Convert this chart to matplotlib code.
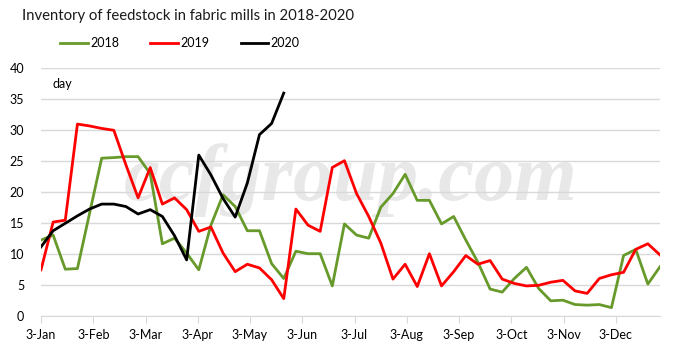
import numpy as np
import matplotlib
matplotlib.use("Agg")
import matplotlib.pyplot as plt

# weekly inventory (days)
green_2018 = [12.3, 13.1, 7.6, 7.7, 16.6, 25.5, 25.6, 25.75, 25.75, 23.0,
              11.7, 12.6, 10.2, 7.5, 14.7, 19.6, 17.7, 13.8, 13.8, 8.5,
              6.1, 10.5, 10.1, 10.1, 4.9, 14.9, 13.1, 12.6, 17.6, 19.8,
              22.9, 18.7, 18.7, 14.9, 16.1, 12.3, 8.7, 4.4, 3.9, 6.1,
              7.9, 4.5, 2.5, 2.6, 1.9, 1.8, 1.9, 1.4, 9.8, 10.8, 5.2, 8.0]
red_2019 = [7.5, 15.2, 15.5, 31.0, 30.7, 30.3, 30.0, 24.4, 19.1, 24.0,
            18.1, 19.1, 17.2, 13.7, 14.4, 10.2, 7.2, 8.4, 7.8, 5.9,
            2.85, 17.3, 14.7, 13.7, 24.0, 25.1, 19.8, 16.1, 11.8, 6.0,
            8.4, 4.8, 10.1, 4.9, 7.2, 9.8, 8.4, 9.0, 6.0, 5.3,
            4.9, 5.0, 5.5, 5.8, 4.1, 3.7, 6.1, 6.7, 7.1, 10.8, 11.7, 9.9]
black_2020 = [11.2, 13.8, 15.0, 16.2, 17.3, 18.1, 18.1, 17.7, 16.5, 17.2,
              16.1, 13.0, 9.1, 26.0, 22.8, 19.0, 16.0, 21.5, 29.3, 31.1, 36.0]

month_labels = ["3-Jan", "3-Feb", "3-Mar", "3-Apr", "3-May", "3-Jun",
                "3-Jul", "3-Aug", "3-Sep", "3-Oct", "3-Nov", "3-Dec"]
weeks_per_month = 4.305

plt.rcParams['font.family'] = ['Lato', 'DejaVu Sans']

fig = plt.figure(figsize=(6.88, 3.64), dpi=100)
ax = fig.add_axes([0.0596, 0.131, 0.8997, 0.6814])

# watermark
ax.text(0.5, 0.55, "ccfgroup.com", transform=ax.transAxes, ha="center", va="center",
        fontsize=58, family="Liberation Serif", style="italic", fontweight="bold",
        color="#e8e8e8", zorder=0)

ax.plot(np.arange(len(green_2018)), green_2018, color="#679a2b", lw=2.0, label="2018", zorder=3)
ax.plot(np.arange(len(red_2019)), red_2019, color="#ff0000", lw=2.0, label="2019", zorder=3)
ax.plot(np.arange(len(black_2020)), black_2020, color="black", lw=2.0, label="2020", zorder=4)

ax.set_xlim(0, len(green_2018) - 1)
ax.set_ylim(0, 40)
ax.set_yticks(range(0, 41, 5))
ax.set_xticks(np.arange(len(month_labels)) * weeks_per_month)
ax.set_xticklabels(month_labels)
ax.grid(axis="y", color="#d9d9d9", lw=1)
ax.set_axisbelow(True)
for s in ["top", "right", "left"]:
    ax.spines[s].set_visible(False)
ax.spines["bottom"].set_color("#d9d9d9")
ax.tick_params(axis="x", colors="#d9d9d9", length=5, direction="out", labelsize=9, labelcolor="black", pad=4)
ax.tick_params(axis="y", length=0, labelsize=9, pad=12)

ax.text(0.018, 0.935, "day", transform=ax.transAxes, fontsize=9, va="center")

fig.text(0.032, 0.955, "Inventory of feedstock in fabric mills in 2018-2020", fontsize=10.7,
         va="center", color="#1a1a1a")
fig.legend(loc="center left", bbox_to_anchor=(60 / 688, 0.882), ncol=3, frameon=False, fontsize=9,
           handlelength=2.2, handletextpad=0.2, columnspacing=2.5, borderpad=0, borderaxespad=0)

fig.savefig("out.png", dpi=100)
